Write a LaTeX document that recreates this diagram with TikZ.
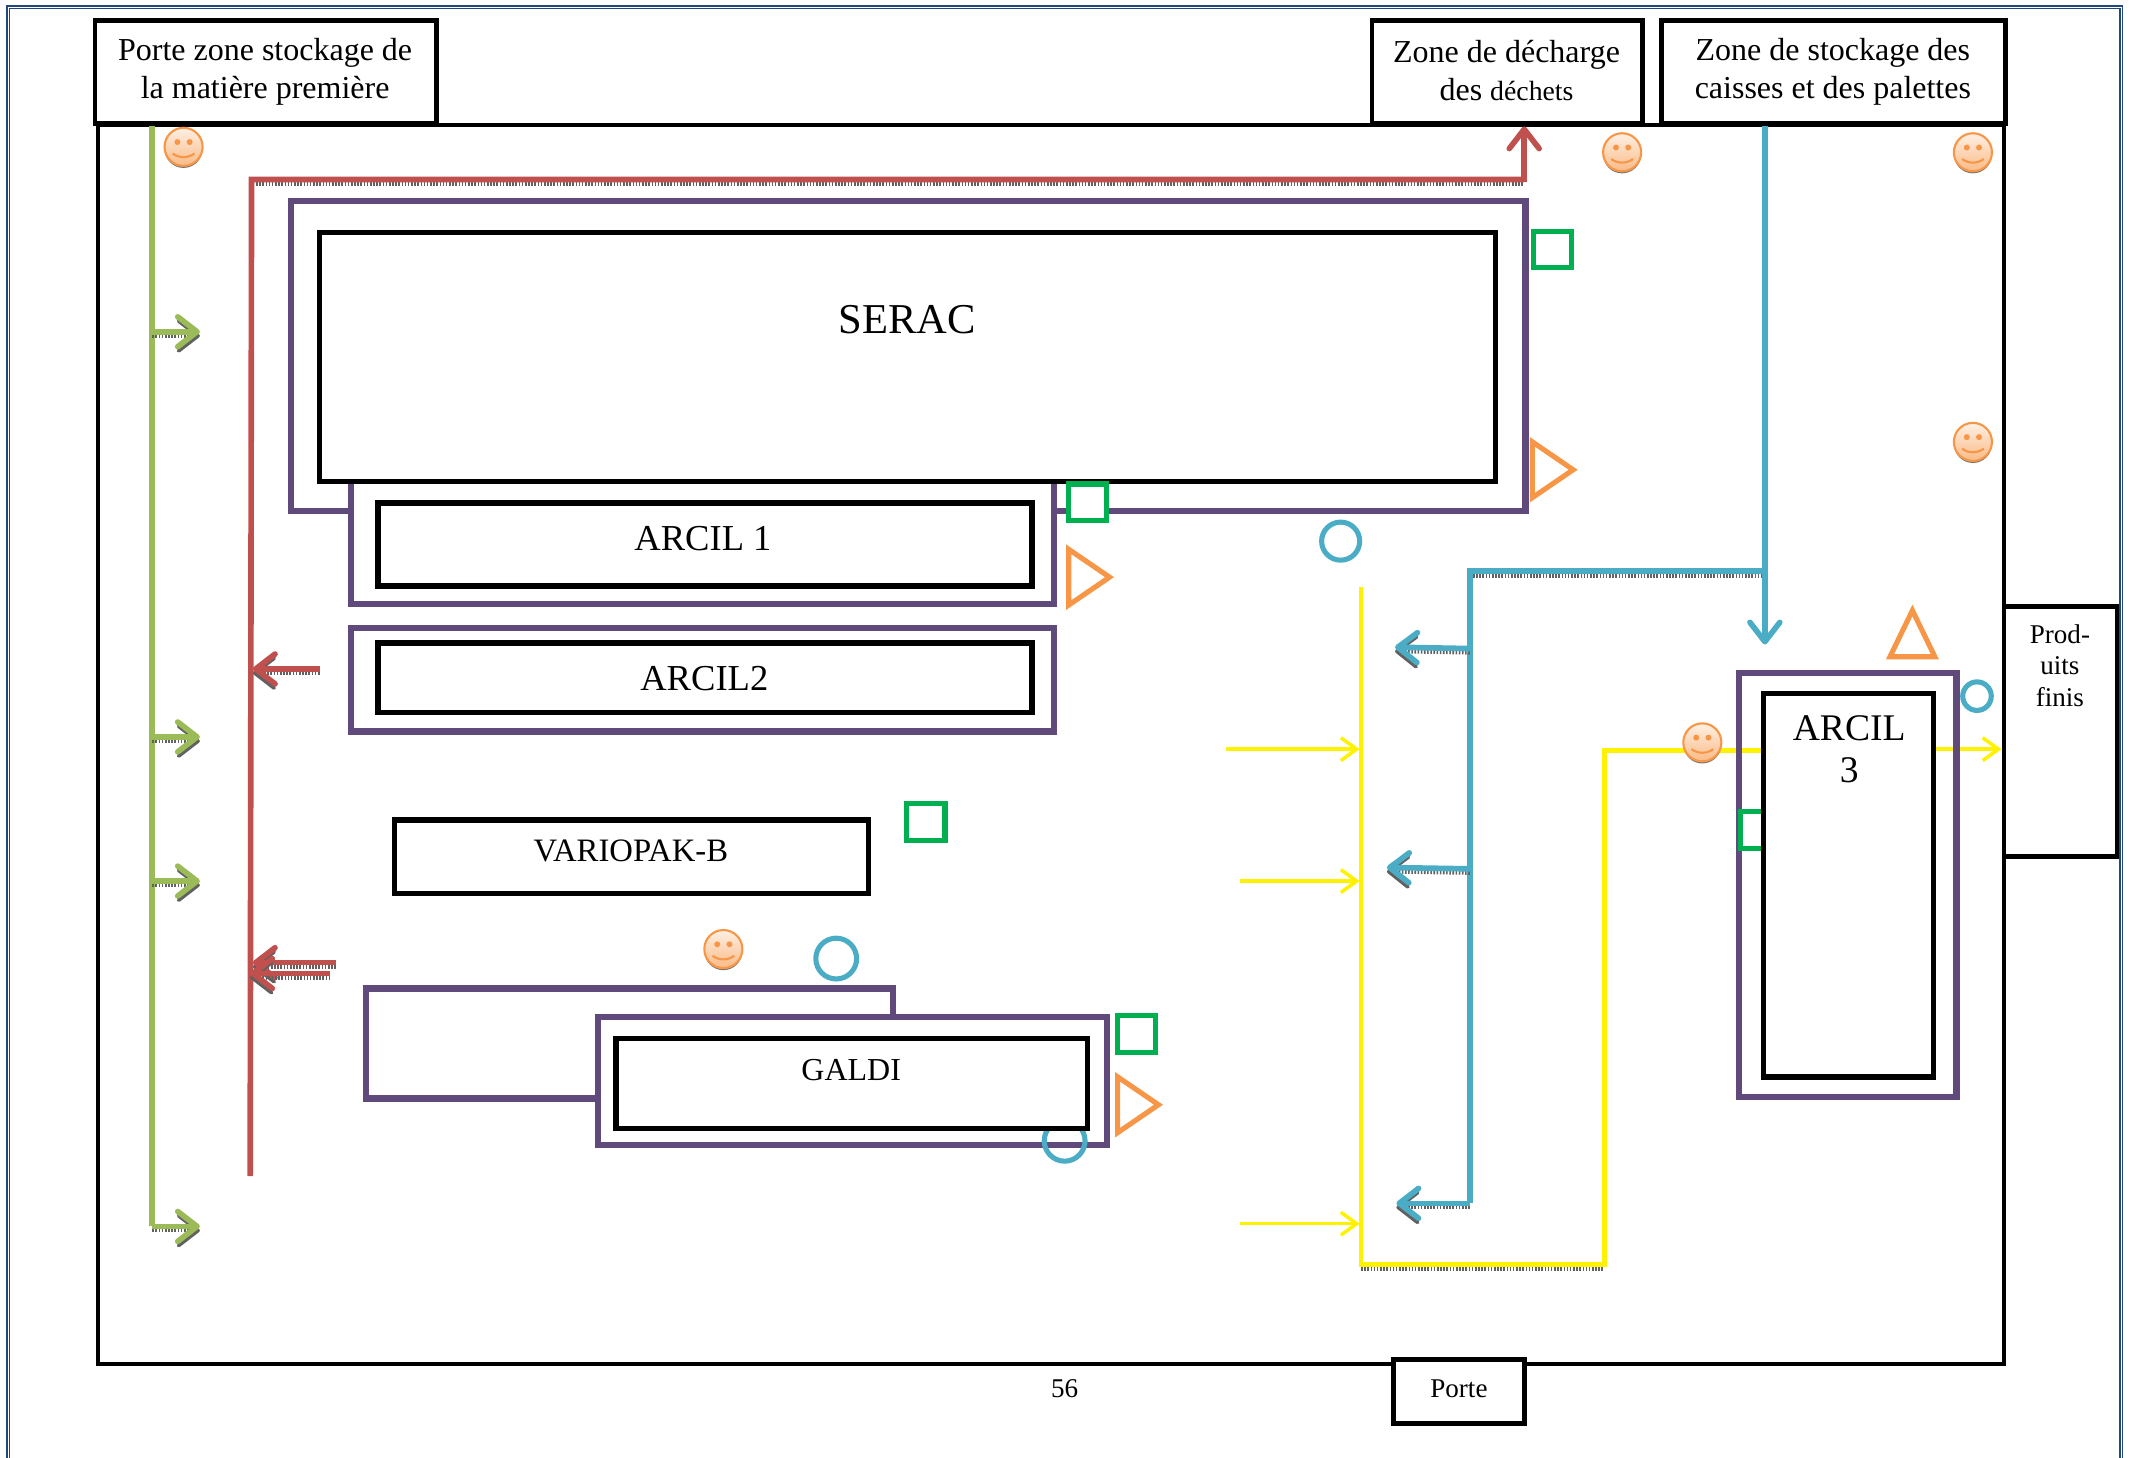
\documentclass[tikz,border=0pt]{standalone}
\usepackage{fontspec}
\setmainfont{Liberation Serif}
\usetikzlibrary{arrows.meta}
\definecolor{violetbox}{HTML}{604A7B}
\definecolor{redflow}{HTML}{C0504D}
\definecolor{greenflow}{HTML}{9BBB59}
\definecolor{blueflow}{HTML}{4BACC6}
\definecolor{orangemark}{HTML}{F79646}
\definecolor{greenmark}{HTML}{00B050}
\definecolor{pageblue}{HTML}{1F497D}
\tikzset{
  bigtip/.style={-{Straight Barb[length=5.5pt,width=8.5pt,round]}},
  blackbox/.style={draw=black,line width=1.5pt,fill=white},
  labelbox/.style={draw=black,line width=1.3pt,fill=white},
  violet/.style={draw=violetbox,line width=1.8pt},
  flowshadow/.style={draw=black!62,line width=1.1pt,dash pattern=on 0.45pt off 0.45pt},
  redline/.style={draw=redflow,line width=1.6pt},
  greenline/.style={draw=greenflow,line width=1.6pt},
  blueline/.style={draw=blueflow,line width=1.6pt},
  yellowline/.style={draw=yellow,line width=1pt,-{Straight Barb[length=4.5pt,width=6.5pt]}},
  squaremark/.style={draw=greenmark,line width=1.45pt,fill=white},
  trianglemark/.style={draw=orangemark,line width=1.45pt,line join=miter},
  circlemark/.style={draw=blueflow,line width=1.45pt}
}
\begin{document}
\begin{tikzpicture}[x=0.0136cm,y=-0.0136cm,line join=miter,every node/.style={inner sep=0pt,align=center}]
  \useasboundingbox (0,0) rectangle (1568,1072.3);
  % cadre de page
  \draw[pageblue,line width=0.55pt] (5,1072.3) -- (5,4.5) -- (1561,4.5) -- (1561,1072.3);
  \draw[pageblue,line width=0.35pt] (6.8,1072.3) -- (6.8,6.3) -- (1559.2,6.3) -- (1559.2,1072.3);
  % atelier
  \draw[line width=1.05pt] (72,92) rectangle (1474,1003);
  % SERAC et ARCIL 1
  \draw[violet] (214,148) rectangle (1122,376);
  \draw[violet,fill=white] (258,350) rectangle (775,444);
  \draw[blackbox] (235,171) rectangle (1100,354);
  \draw[blackbox] (278,370) rectangle (759,431);
  % ARCIL2
  \draw[violet] (258,462) rectangle (775,538);
  \draw[blackbox] (278,473) rectangle (759,524);
  % VARIOPAK
  \draw[blackbox] (290,603) rectangle (639,657);
  % GALDI
  \draw[violet] (269,727) rectangle (657,808);
  \draw[violet,fill=white] (440,748) rectangle (814,842);
  \draw[circlemark] (783,839) circle[radius=15];
  \draw[blackbox] (453,764) rectangle (800,830);
  % flux jaune
  \draw[flowshadow] (1001,933) -- (1180,933);
  \draw[draw=yellow,line width=1.2pt] (1001,432) -- (1001,930) -- (1180,930) -- (1180,552) -- (1297,552);
  \foreach \xstart/\xend/\yy in {902/1000/551,912/1000/648,912/1000/900,1422/1472/551} {
    \draw[yellowline] (\xstart,\yy) -- (\xend,\yy);
  }
  % ARCIL 3
  \draw[violet] (1279,495) rectangle (1439,807);
  \draw[squaremark] (1280,597) rectangle (1310,624);
  \draw[blackbox] (1297,510) rectangle (1422,792);
  % flux vert
  \draw[greenline] (112,92) -- (112,902);
  \foreach \yy in {244,542,648,902} {
    \draw[flowshadow,bigtip] (112,\yy+3) -- (147,\yy+3);
    \draw[greenline,bigtip] (112,\yy) -- (147,\yy);
  }
  % flux rouge
  \draw[flowshadow] (186,135.5) -- (1121,135.5);
  \draw[redline] (184,865) -- (185,132) -- (1121,132);
  \draw[redline,bigtip] (1121,134) -- (1121,93);
  \foreach \xstart/\xend/\ya/\yb in {235/186/492/492,247/186/708/708,243/184/716/716} {
    \draw[flowshadow,bigtip] (\xstart,\ya+3) -- (\xend,\yb+3);
    \draw[redline,bigtip] (\xstart,\ya) -- (\xend,\yb);
  }
  % flux bleu
  \draw[flowshadow] (1081,423.5) -- (1298,423.5);
  \draw[blueline] (1298,92) -- (1298,420);
  \draw[blueline,bigtip] (1298,418) -- (1298,474);
  \draw[blueline] (1298,420) -- (1081,420) -- (1081,885);
  \foreach \xend/\ya/\yb in {1026/477/476,1020/639/638,1027/885/885} {
    \draw[flowshadow,bigtip] (1081,\ya+3) -- (\xend,\yb+3);
    \draw[blueline,bigtip] (1081,\ya) -- (\xend,\yb);
  }
  % carres
  \foreach \xa/\ya in {1128/170,786/356,667/591,822/747} {
    \draw[squaremark] (\xa,\ya) rectangle (\xa+28,\ya+27);
  }
  % triangles
  \foreach \xa/\ya in {1127/325,786/404,822/792} {
    \draw[trianglemark] (\xa,\ya) -- (\xa,\ya+41) -- (\xa+30,\ya+20.5) -- cycle;
  }
  \draw[trianglemark] (1390,483) -- (1423,483) -- (1406.5,449) -- cycle;
  % cercles
  \draw[circlemark] (986,398) circle[radius=14];
  \draw[circlemark] (615,705) circle[radius=15];
  \draw[circlemark] (1454,512) circle[radius=10.5];
  % visages
  \foreach \xa/\ya in {135/108,1193/112,1451/112,1451/325,532/698,1252/546} {
    \begin{scope}[shift={(\xa,\ya)}]
      \fill[black!55] (0,1.5) circle[radius=14];
      \shade[top color=orangemark!15,bottom color=orangemark!65,draw=orangemark,line width=0.6pt] (0,0) circle[radius=14];
      \fill[orangemark] (-4.5,-3.5) circle[radius=2.2] (4.5,-3.5) circle[radius=2.2];
      \draw[orangemark,line width=0.6pt] (-8,5) .. controls (-3,8.5) and (3,8.5) .. (8,5);
    \end{scope}
  }
  % etiquettes
  \draw[labelbox] (70,15) rectangle (321,91);
  \draw[labelbox] (1009,15) rectangle (1208,91);
  \draw[labelbox] (1222,15) rectangle (1475,91);
  \draw[labelbox] (1474,446) rectangle (1557,630);
  \draw[labelbox] (1025,1000) rectangle (1121,1047);
  \tikzset{every node/.append style={font=\fontsize{9.1}{10.8}\selectfont}}
  \node (porteMP) at (195,53) {Porte zone stockage de\\la matière première};
  \node (dechets) at (1108,52) {Zone de décharge\\des {\fontsize{7.9}{10.8}\selectfont déchets}};
  \node (caisses) at (1348,53) {Zone de stockage des\\caisses et des palettes};
  \node[font=\fontsize{12.1}{14}\selectfont] (serac) at (667,235) {SERAC};
  \node[font=\fontsize{10.4}{12}\selectfont] (arcilun) at (517,396) {ARCIL 1};
  \node[font=\fontsize{10.4}{12}\selectfont] (arcildeux) at (518,499) {ARCIL2};
  \node[font=\fontsize{9.3}{11}\selectfont] (variopak) at (464,626) {VARIOPAK-B};
  \node (galdi) at (626,787) {GALDI};
  \node[font=\fontsize{10.7}{12}\selectfont] (arciltrois) at (1360,551) {ARCIL\\3};
  \node[font=\fontsize{7.7}{8.9}\selectfont] (produits) at (1515,489.5) {Prod-\\uits\\finis};
  \node[font=\fontsize{7.7}{9}\selectfont] (page) at (783,1021) {56};
  \node[font=\fontsize{7.7}{9}\selectfont] (porte) at (1073,1021.5) {Porte};
\end{tikzpicture}
\end{document}
